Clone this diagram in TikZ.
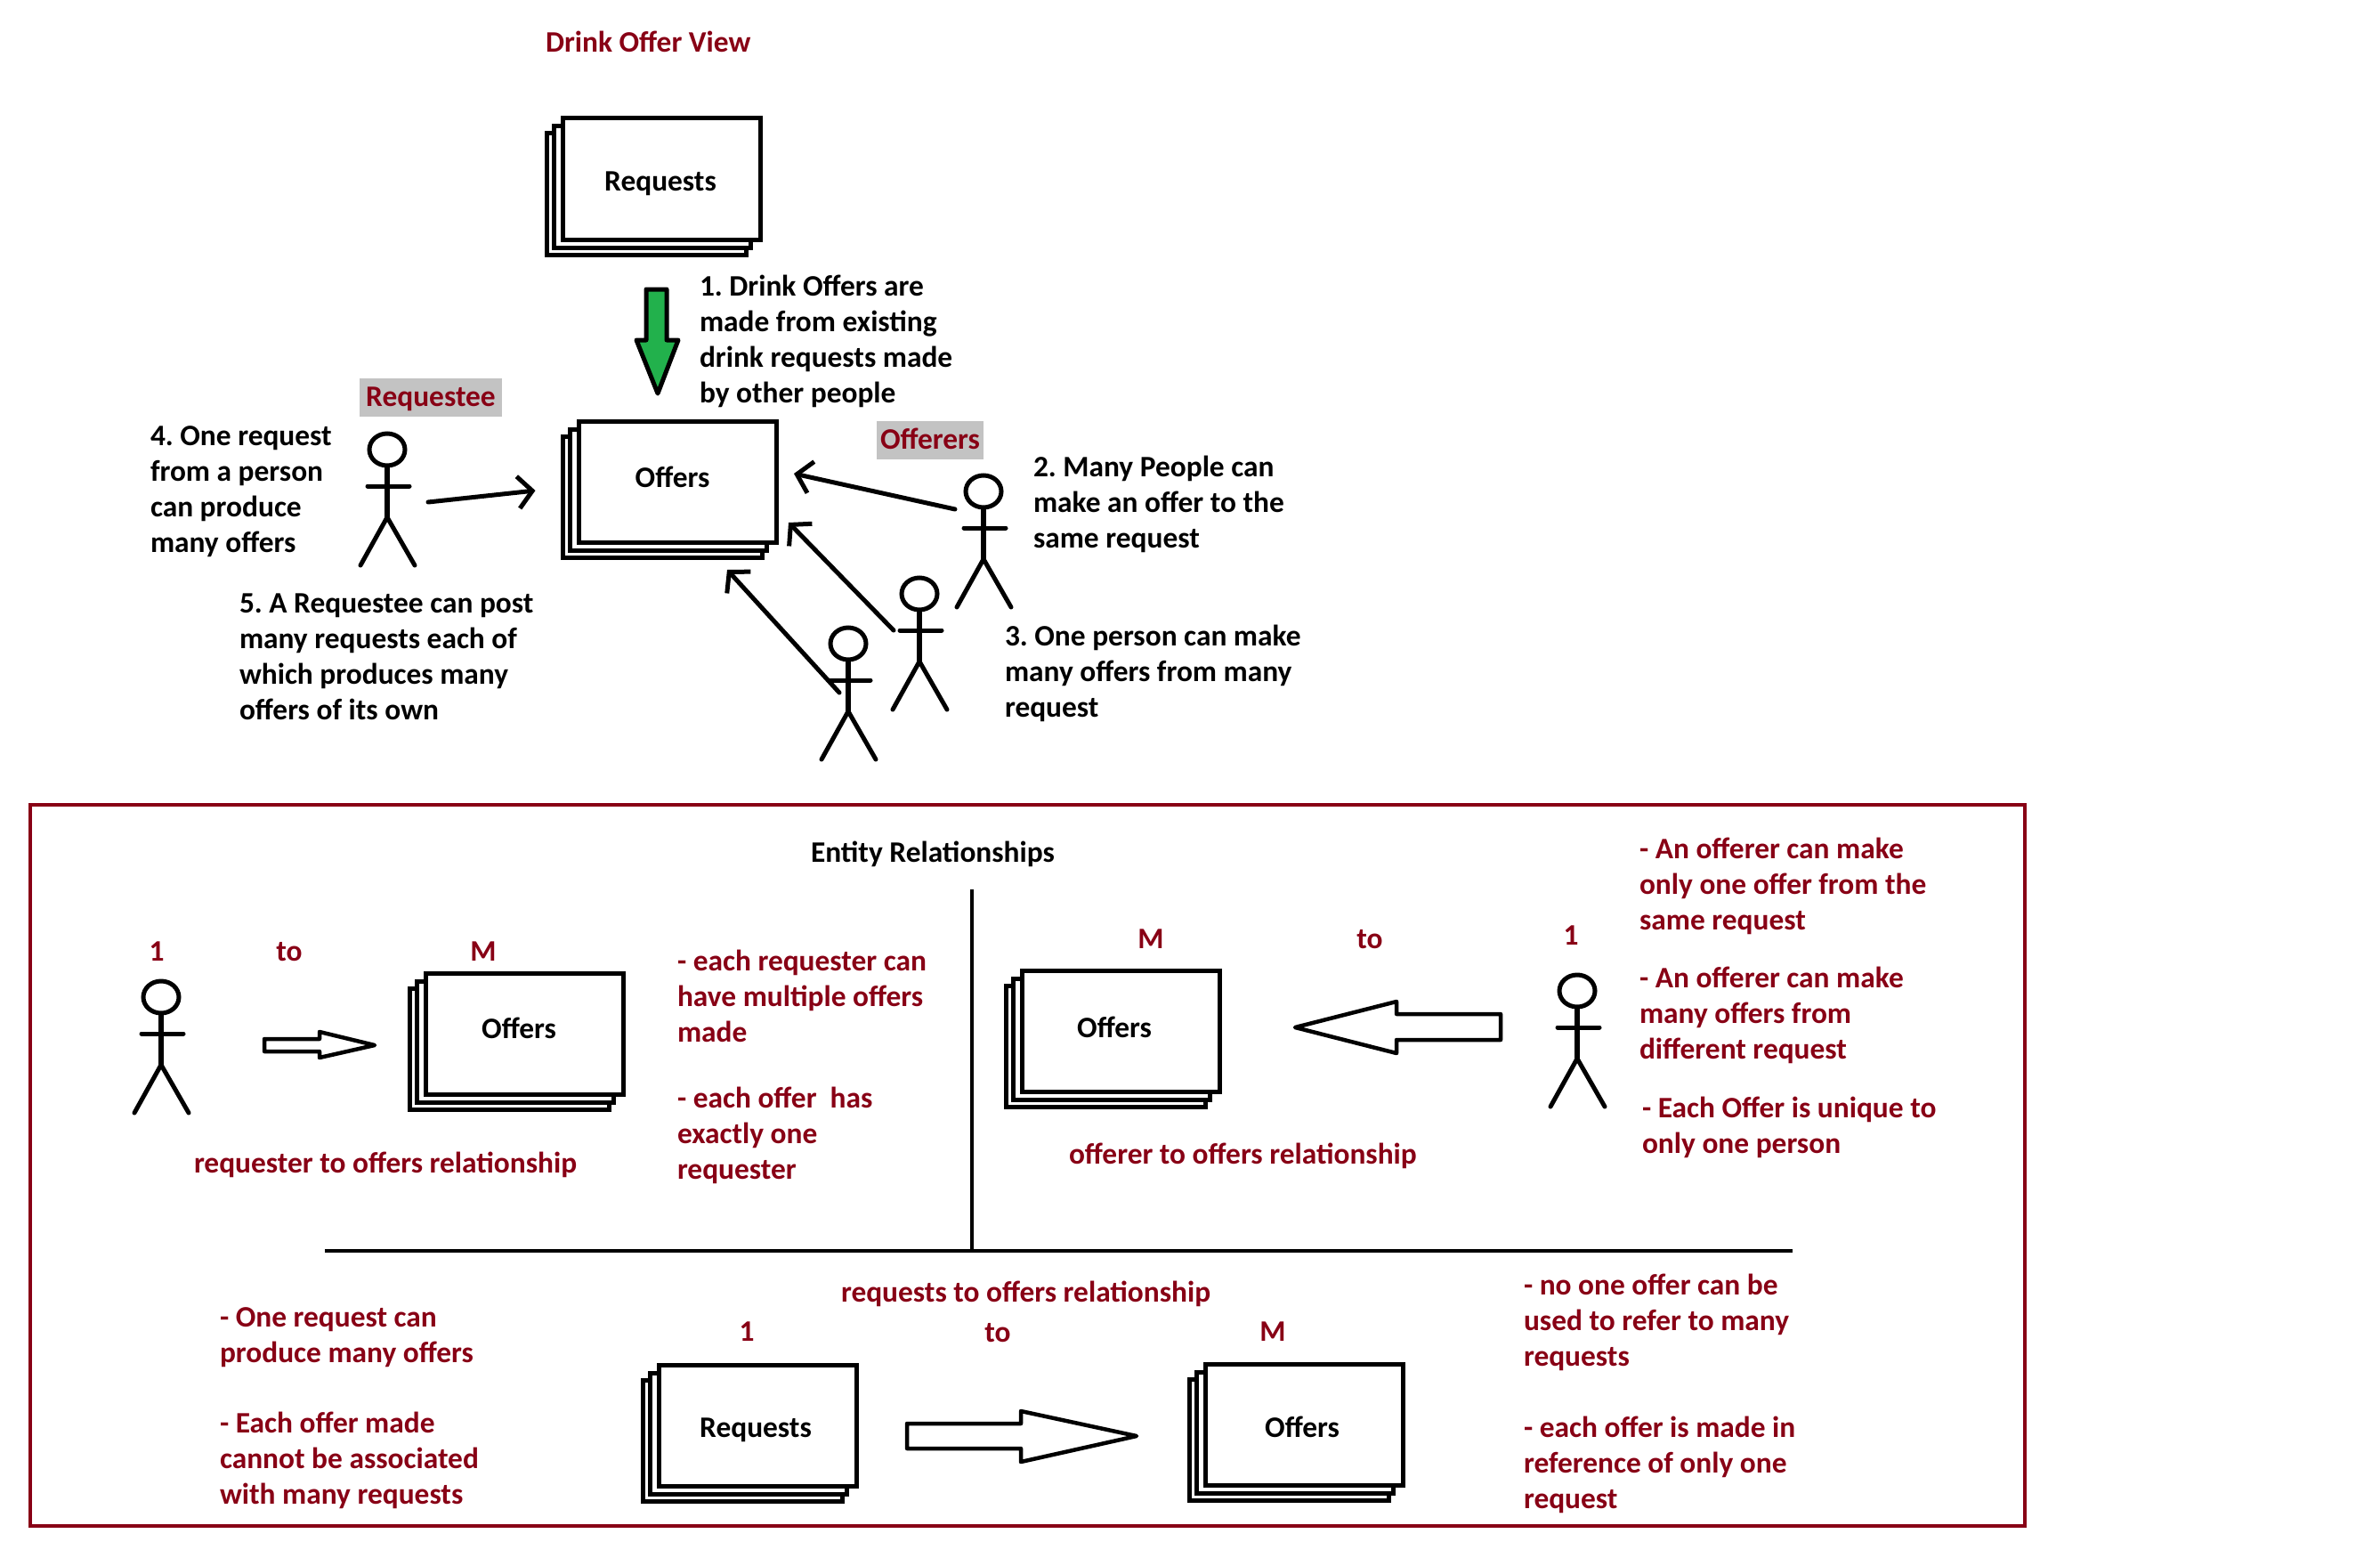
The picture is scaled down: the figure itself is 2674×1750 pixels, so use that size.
\documentclass[tikz,border=0pt]{standalone}
\usepackage{fontspec}
\setmainfont{Carlito}
\usetikzlibrary{arrows.meta,shapes.geometric}
\frenchspacing
\definecolor{darkred}{HTML}{880015}
\definecolor{paintgreen}{HTML}{22B14C}
\definecolor{labelgrey}{HTML}{C3C3C3}
\tikzset{
  note/.style={anchor=north west,inner sep=0pt,outer sep=0pt,align=left,font=\fontsize{33.4}{40}\selectfont\bfseries},
  rednote/.style={note,text=darkred},
  cardinal/.style={inner sep=0pt,text=darkred,font=\fontsize{33.4}{40}\selectfont\bfseries},
  tag/.style={cardinal,fill=labelgrey,minimum height=43pt,text height=21pt,text depth=0pt},
  card/.style={draw,line width=5pt,fill=white,inner sep=0pt,outer sep=0pt,minimum width=222pt,minimum height=136pt},
  cardback/.style={draw,line width=5pt,fill=white},
  cardtext/.style={inner sep=0pt,text height=21pt,text depth=0pt,font=\fontsize{33.4}{40}\selectfont\bfseries},
  stickhead/.style={ellipse,draw,line width=5pt,inner sep=0pt,outer sep=0pt,minimum width=40pt,minimum height=36pt},
  limb/.style={line width=5pt,line cap=round},
  barb/.style={line width=5pt,line cap=round,-{Straight Barb[length=16pt,width=36pt]}},
  block/.style={draw,line width=4.5pt,line join=round,fill=white},
  rule/.style={line width=4pt}
}
\newcommand{\cardstack}[6]{
\draw[cardback] (#2-129,#3-51) rectangle (#2+95,#3+85);
\draw[cardback] (#2-121,#3-59) rectangle (#2+100,#3+77);
\node[card] (#1) at (#2,#3) {};
\node[cardtext] (#1text) at (#5,#6) {#4};
}
\newcommand{\stickman}[3]{
\node[stickhead] (#1) at (#2,#3) {};
\draw[limb,line width=6pt,line cap=butt] (#1.south) -- (#2,#3+76);
\draw[limb] (#2-22,#3+41) -- (#2+25,#3+41);
\draw[limb] (#2-30,#3+130) -- (#2,#3+76) -- (#2+31,#3+130);
}
\begin{document}
\begin{tikzpicture}[x=1pt,y=-1pt]
\useasboundingbox (0,0) rectangle (2674,1750);
\node[rednote] (viewtitle) at (613,35) {Drink Offer View};
\cardstack{requeststop}{743.5}{201}{Requests}{742}{204}
\cardstack{offerstop}{761.5}{541}{Offers}{755.5}{537}
\draw[line width=5pt,line join=round,fill=paintgreen] (726,325)--(749,325)--(749,382)--(762,382)--(739,442)--(715,382)--(726,382)--cycle;
\node[note] (step1) at (786,309) {1. Drink Offers are\\made from existing\\drink requests made\\by other people};
\node[tag,minimum width=160pt] (requestee) at (484,446) {Requestee};
\node[tag,minimum width=120pt] (offerers) at (1045,494) {Offerers};
\node[note] (step4) at (169,479) {4. One request\\from a person\\can produce\\many offers};
\node[note] (step5) at (269,667) {5. A Requestee can post\\many requests each of\\which produces many\\offers of its own};
\node[note] (step2) at (1161,512) {2. Many People can\\make an offer to the\\same request};
\node[note] (step3) at (1129,702) {3. One person can make\\many offers from many\\request};
\stickman{requesteeman}{435}{505}
\stickman{offererA}{1105}{552}
\stickman{offererB}{1033}{667}
\stickman{offererC}{953}{723}
\draw[barb] ([shift={(46,59)}]requesteeman.center) -- ([shift={(-49,10)}]offerstop.west);
\draw[barb] ([shift={(-32,20)}]offererA.center) -- ([shift={(19.5,-9)}]offerstop.east);
\draw[barb] ([shift={(-29,41)}]offererB.center) -- ([shift={(13.5,46)}]offerstop.east);
\draw[barb] ([shift={(-10,55)}]offererC.center) -- ([shift={(55.5,31)}]offerstop.south);
% lower panel
\draw[darkred,line width=4.5pt] (34,904) rectangle (2275,1714);
\node[note] (entitytitle) at (911,945) {Entity Relationships};
\draw[rule] (1092,999) -- (1092,1405);
\draw[rule] (365,1405) -- (2014,1405);
\node[cardinal] (one1) at (176,1069) {1};
\node[cardinal] (to1) at (325,1069) {to};
\node[cardinal] (many1) at (543,1069) {M};
\stickman{requesterman}{181}{1120}
\draw[block] (297,1167)--(359,1167)--(359,1159)--(421,1174)--(359,1188)--(359,1181)--(297,1181)--cycle;
\cardstack{offersleft}{589.5}{1161}{Offers}{583}{1156}
\node[rednote] (relleft) at (218,1294) {requester to offers relationship};
\node[rednote] (noteleftA) at (761,1067) {- each requester can\\have multiple offers\\made};
\node[rednote] (noteleftB) at (761,1221) {- each offer\ \ has\\exactly one\\requester};
\node[cardinal] (many2) at (1293,1055) {M};
\node[cardinal] (to2) at (1539,1055) {to};
\node[cardinal] (one2) at (1765,1051) {1};
\cardstack{offersright}{1259.5}{1158}{Offers}{1252}{1155}
\draw[block] (1686,1139)--(1569,1139)--(1569,1125)--(1455,1154)--(1569,1183)--(1569,1168)--(1686,1168)--cycle;
\stickman{offererman}{1772}{1113}
\node[rednote] (relright) at (1201,1284) {offerer to offers relationship};
\node[rednote] (noterightA) at (1842,941) {- An offerer can make\\only one offer from the\\same request};
\node[rednote] (noterightB) at (1842,1086) {- An offerer can make\\many offers from\\different request};
\node[rednote] (noterightC) at (1845,1232) {- Each Offer is unique to\\only one person};
\node[rednote] (relbottom) at (945,1439) {requests to offers relationship};
\node[cardinal] (one3) at (839,1496) {1};
\node[cardinal] (to3) at (1121,1497) {to};
\node[cardinal] (many3) at (1430,1496) {M};
\cardstack{requestsbottom}{851.5}{1601}{Requests}{849}{1604}
\draw[block] (1019,1599)--(1147,1599)--(1147,1585)--(1277,1613)--(1147,1642)--(1147,1627)--(1019,1627)--cycle;
\cardstack{offersbottom}{1465.5}{1600}{Offers}{1463}{1604}
\node[rednote] (notebottomA) at (247,1469) {- One request can\\produce many offers};
\node[rednote] (notebottomB) at (247,1586) {- Each offer made\\cannot be associated\\with many requests};
\node[rednote] (notebottomC) at (1712,1431) {- no one offer can be\\used to refer to many\\requests};
\node[rednote] (notebottomD) at (1712,1591) {- each offer is made in\\reference of only one\\request};
\end{tikzpicture}
\end{document}
